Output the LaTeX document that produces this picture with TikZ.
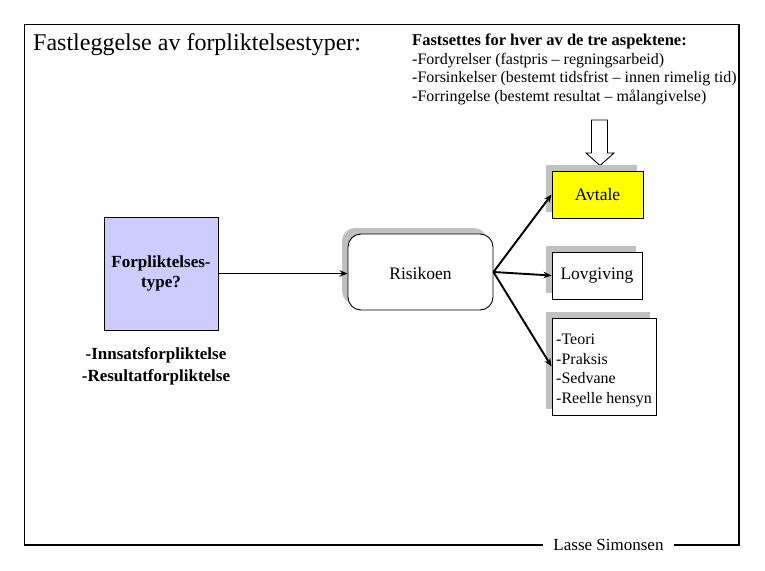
\documentclass[tikz,border=0pt]{standalone}
\usepackage{fontspec}
\setmainfont{Liberation Serif}
\usetikzlibrary{arrows.meta,shadows}
\definecolor{lav}{HTML}{CCCCFF}
\definecolor{shd}{HTML}{C0C0C0}
\definecolor{yel}{HTML}{FFFF00}
\newcommand\setfs[2]{\fontsize{#1}{#2}\selectfont}
\begin{document}
\begin{tikzpicture}[x=1pt,y=-1pt,
  txt/.style={inner sep=0pt, anchor=base west},
  ctxt/.style={inner sep=0pt, anchor=base},
  plainbox/.style={draw=black, line width=0.9pt, inner sep=0pt},
  sbox/.style={plainbox,
    general shadow={fill=shd, shadow xshift=-6pt, shadow yshift=6pt}},
  conn/.style={line width=1.9pt, -{Stealth[length=8pt,width=6.5pt]}},
  frame/.style={line width=1.4pt}]
\useasboundingbox (0,0) rectangle (765,570);

% header texts
\node[txt, font=\setfs{24}{28}] (title) at (33,50) {Fastleggelse av forpliktelsestyper:};
\node[txt, font=\setfs{16.5}{19}\bfseries] (asp1) at (412,45) {Fastsettes for hver av de tre aspektene:};
\node[txt, font=\setfs{16}{19}] (asp2) at (412,64) {-Fordyrelser (fastpris – regningsarbeid)};
\node[txt, font=\setfs{16}{19}] (asp3) at (412,82.5) {-Forsinkelser (bestemt tidsfrist – innen rimelig tid)};
\node[txt, font=\setfs{16}{19}] (asp4) at (412,101) {-Forringelse (bestemt resultat – målangivelse)};

% block arrow
\draw[line width=0.9pt, fill=white] (591.5,120) -- (607.5,120) -- (607.5,153) -- (614,153)
  -- (600,165.5) -- (586,153) -- (591.5,153) -- cycle;

% boxes
\node[plainbox, fill=lav, minimum width=114pt, minimum height=113pt, align=center,
  font=\setfs{17}{20}\bfseries]
  (forp) at (161,273.5) {Forpliktelses-\\type?};
\node[ctxt, font=\setfs{17}{20}\bfseries] (inn) at (156,359) {-Innsatsforpliktelse};
\node[ctxt, font=\setfs{17}{20}\bfseries] (res) at (156,381) {-Resultatforpliktelse};

\node[sbox, fill=white, rounded corners=13pt, minimum width=145pt, minimum height=76pt]
  (risk) at (420.5,272) {};
\node[font=\setfs{17.5}{20}, inner sep=0pt] (risktxt) at ([yshift=-2pt]risk.center) {Risikoen};

\node[sbox, fill=yel, minimum width=91pt, minimum height=47pt, font=\setfs{17.5}{20}]
  (avt) at (597.5,194.5) {Avtale};
\node[sbox, fill=white, minimum width=90pt, minimum height=47pt, font=\setfs{17.5}{20}]
  (lov) at (597,275.5) {Lovgiving};
\node[sbox, fill=white, minimum width=104pt, minimum height=97pt] (src) at (604,366.5) {};
\node[align=left, font=\setfs{16}{19.5}, inner sep=0pt] (srctxt)
  at ([yshift=-4pt]src.center) {-Teori\\-Praksis\\-Sedvane\\-Reelle hensyn};

% connectors
\draw[conn] (forp.east) -- (forp.east -| risk.west);
\draw[conn] (risk.east) -- (avt.west);
\draw[conn] (risk.east) -- (lov.west);
\draw[conn] (risk.east) -- (src.west);

% frame with footer
\node[ctxt, inner xsep=10pt, inner ysep=3pt, font=\setfs{17}{20}] (foot) at (608.5,550) {Lasse Simonsen};
\coordinate (fb) at (0,545);
\draw[frame] (foot.west |- fb) -- (24.5,545) -- (24.5,24.5) -- (739,24.5) -- (739,545) -- (foot.east |- fb);
\end{tikzpicture}
\end{document}
